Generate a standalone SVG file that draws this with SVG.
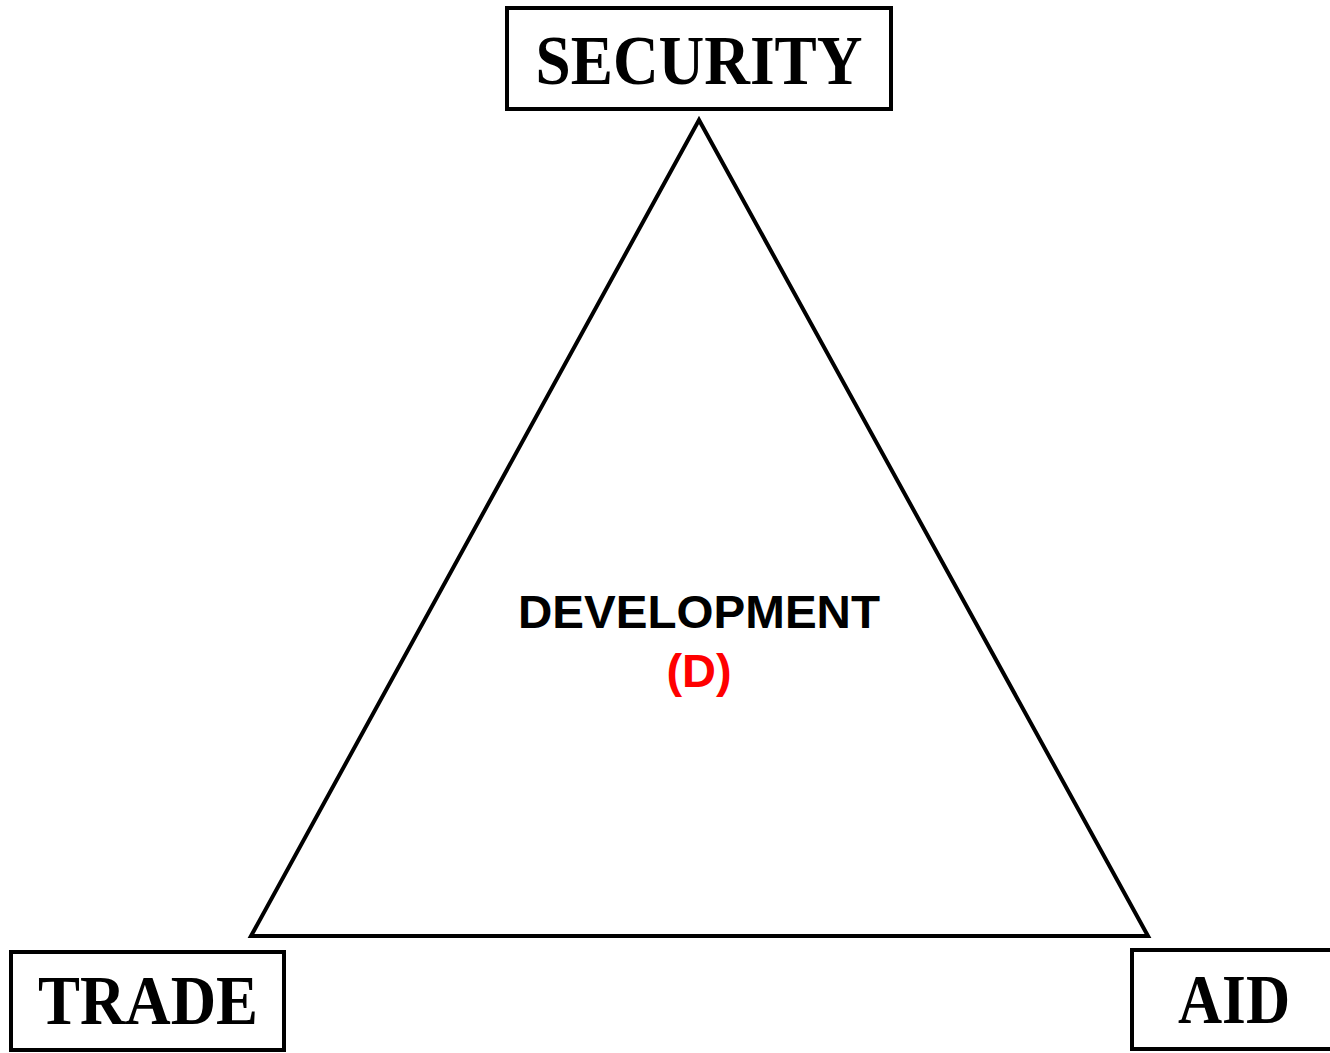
<svg xmlns="http://www.w3.org/2000/svg" width="1330" height="1053" viewBox="0 0 1330 1053">
<style>
.box{fill:#fff;stroke:#000;stroke-width:4}
.lbl{font-family:"Liberation Serif","Times New Roman",serif;font-weight:bold;font-size:69px;fill:#000;text-anchor:middle}
.dev{font-family:"Liberation Sans",Arial,sans-serif;font-weight:bold;font-size:47px;text-anchor:middle}
</style>
<rect width="1330" height="1053" fill="#fff"/>
<g id="connectors">
<polygon points="699,120 251,936 1148,936" fill="none" stroke="#000" stroke-width="4"/>
</g>
<g id="security">
<rect class="box" x="507" y="8" width="384" height="101"/>
<text class="lbl" x="699" y="84" textLength="327" lengthAdjust="spacingAndGlyphs">SECURITY</text>
</g>
<g id="trade">
<rect class="box" x="11" y="952" width="273" height="98"/>
<text class="lbl" x="148" y="1024" textLength="220" lengthAdjust="spacingAndGlyphs">TRADE</text>
</g>
<g id="aid">
<rect class="box" x="1132" y="950" width="205" height="99"/>
<text class="lbl" x="1234" y="1023" textLength="112" lengthAdjust="spacingAndGlyphs">AID</text>
</g>
<g id="development">
<text class="dev" x="699" y="628" fill="#000" textLength="362" lengthAdjust="spacingAndGlyphs">DEVELOPMENT</text>
<text class="dev" x="699" y="687" fill="#f00">(D)</text>
</g>
</svg>
